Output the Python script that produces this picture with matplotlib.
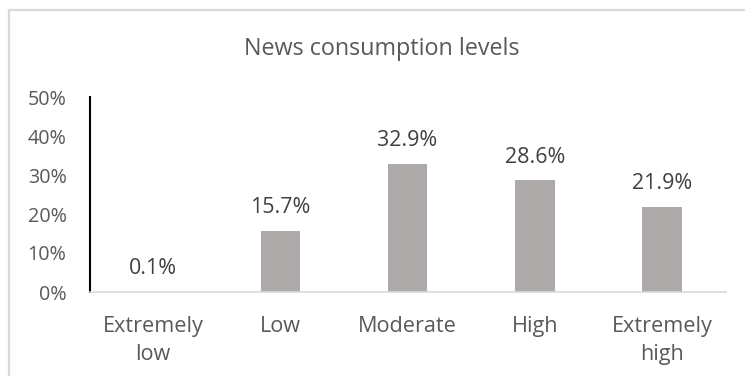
import numpy as np
import matplotlib.pyplot as plt
from matplotlib.patches import Rectangle
from matplotlib.ticker import PercentFormatter

plt.rcParams['font.family'] = ['Open Sans', 'DejaVu Sans']

# news consumption shares
levels = ["Extremely\nlow", "Low", "Moderate", "High", "Extremely\nhigh"]
shares = [0.1, 15.7, 32.9, 28.6, 21.9]

W, H = 745, 376
fig = plt.figure(figsize=(W / 100, H / 100), dpi=100)

# chart area border, cut off at right and bottom
fig.patches.append(Rectangle((8.5 / W, -0.05), 1.1, (H - 10) / H + 0.05,
                             transform=fig.transFigure, fill=False,
                             edgecolor='#d9d9d9', linewidth=1.6))

ax = fig.add_axes([89.5 / W, (H - 292) / H, (725.7 - 89.5) / W, (292 - 97) / H])

x = np.arange(len(levels))
bars = ax.bar(x, shares, width=0.31, color='#aeaaaa')

for xi, v in zip(x, shares):
    ax.text(xi, v + 3.2, f"{v:.1f}%", ha='center', va='bottom',
            fontsize=15.4, color='#404040')

ax.set_xlim(-0.5, len(levels) - 0.5)
ax.set_ylim(0, 50)
ax.set_yticks(np.arange(0, 51, 10))
ax.yaxis.set_major_formatter(PercentFormatter(decimals=0))
ax.set_xticks(x)
ax.set_xticklabels(levels, linespacing=1.45)

ax.tick_params(axis='y', length=0, pad=16.5, labelsize=14.2, labelcolor='#595959')
ax.tick_params(axis='x', length=0, pad=17, labelsize=15.6, labelcolor='#595959')

for s in ['top', 'right']:
    ax.spines[s].set_visible(False)
ax.spines['left'].set_color('black')
ax.spines['left'].set_linewidth(1.5)
ax.spines['bottom'].set_color('#d9d9d9')
ax.spines['bottom'].set_linewidth(1.2)

fig.text(381.7 / W, (H - 55) / H, "News consumption levels", ha='center',
         va='baseline', fontsize=16.8, color='#595959')

fig.savefig("out.png", dpi=100)
